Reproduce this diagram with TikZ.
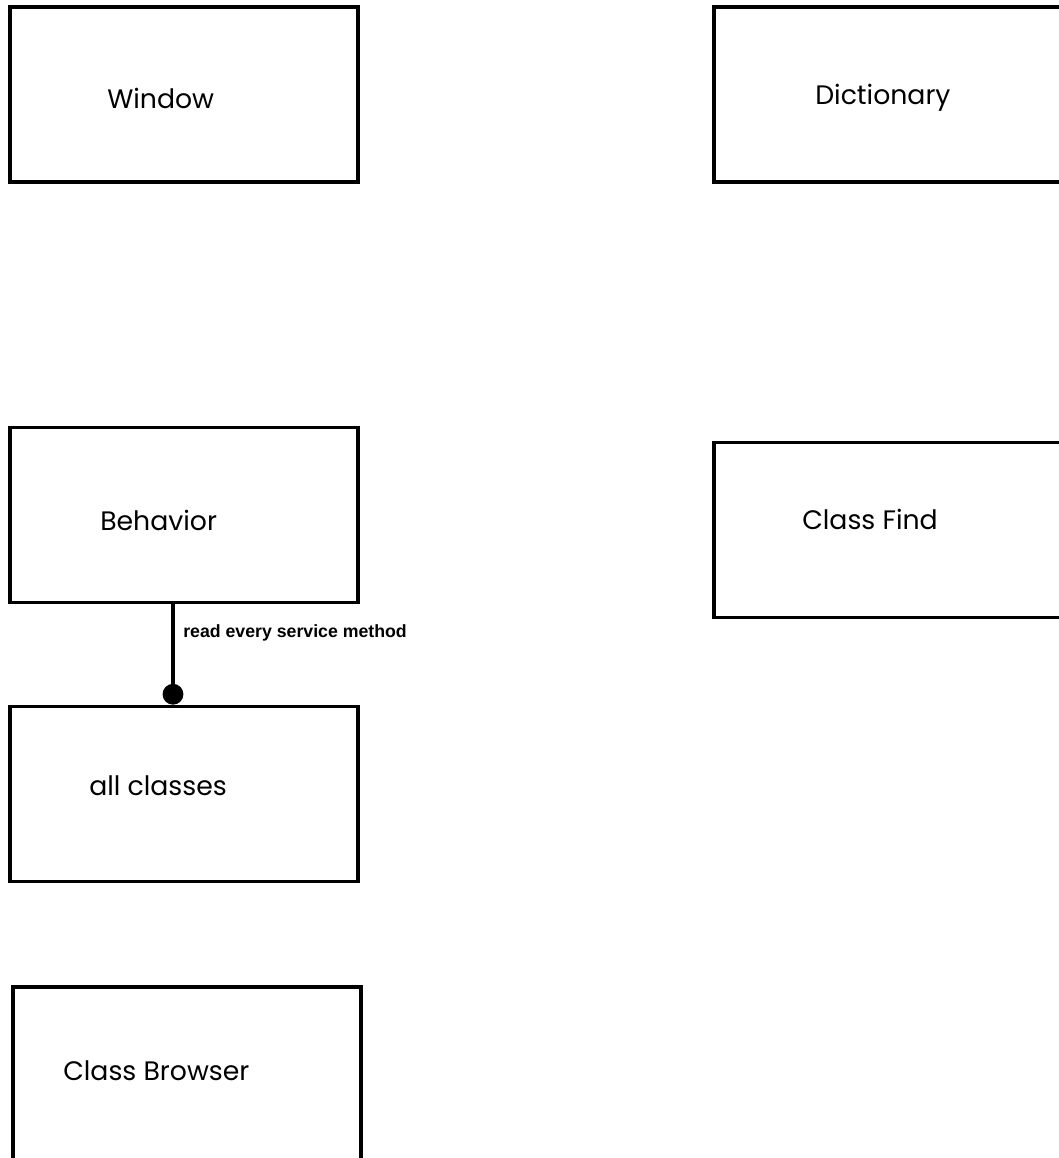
\documentclass[tikz,border=0pt]{standalone}
\usepackage{fontspec}
\setmainfont{Poppins}
\newfontfamily\narrowfont{Liberation Sans}
\usetikzlibrary{arrows.meta}

\begin{document}
\begin{tikzpicture}[
    x=0.025cm, y=-0.025cm,
    classbox/.style={
      draw=black, line width=2.6pt, inner sep=0pt,
      minimum width=8.7cm, minimum height=4.375cm,
    },
    classname/.style={font=\fontsize{19}{23}\selectfont, anchor=base west, inner sep=0pt},
    linklbl/.style={font=\narrowfont\bfseries\fontsize{12.6}{15}\selectfont, anchor=base west, inner sep=0pt},
    uses/.style={line width=2.6pt, -{Circle[length=0.52cm]}},
  ]
  \useasboundingbox (0,0) rectangle (1059,1158);

  % ===== left column =====
  \node[classbox] (window)    at (184, 94.5) {};
  \node[classbox] (behavior)  at (184, 515)  {};
  \node[classbox] (allcls)    at (184, 794)  {};
  \node[classbox] (browser)   at (187, 1074.5) {};
  \node[classname] (window-t)   at (107, 108)  {Window};
  \node[classname] (behavior-t) at (100, 530)  {Behavior};
  \node[classname] (allcls-t)   at (89, 795)   {all classes};
  \node[classname] (browser-t)  at (63, 1080)  {Class Browser};

  % ===== right column =====
  \node[classbox] (dict) at (888, 94.5) {};
  \node[classbox] (find) at (888, 530)  {};
  \node[classname] (dict-t) at (815, 104) {Dictionary};
  \node[classname] (find-t) at (802, 529) {Class Find};

  % ===== link =====
  \coordinate (via) at (173, 0);
  \draw[uses] (behavior.south -| via) -- (allcls.north -| via);
  \node[linklbl] (via-t) at (183, 637) {read every service method};
\end{tikzpicture}
\end{document}
